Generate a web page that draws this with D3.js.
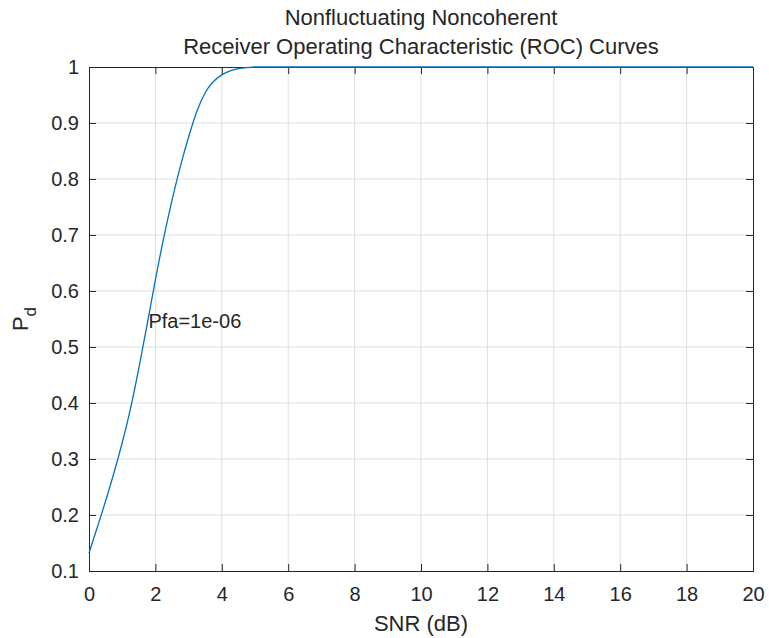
<!DOCTYPE html>
<html>
<head>
<meta charset="utf-8">
<script src="https://cdn.jsdelivr.net/npm/d3@7/dist/d3.min.js"></script>
<style>
  body { margin: 0; background: #fff; }
  text { font-family: "Liberation Sans", Arial, Helvetica, sans-serif; fill: #262626; }
</style>
</head>
<body>
<div id="chart"></div>
<script>
// values
const snr = [0, 0.25, 0.5, 0.75, 1, 1.25, 1.5, 1.75, 2, 2.25, 2.5, 2.75, 3, 3.25, 3.5, 3.75, 4, 4.25, 4.5, 4.75, 5, 5.5, 6, 8, 10, 12, 14, 16, 18, 20];
const pd = [0.132, 0.178, 0.225, 0.275, 0.329, 0.39, 0.462, 0.54, 0.62, 0.695, 0.762, 0.822, 0.875, 0.921, 0.954, 0.974, 0.986, 0.993, 0.997, 0.999, 1, 1, 1, 1, 1, 1, 1, 1, 1, 1];
const xTicks = [0, 2, 4, 6, 8, 10, 12, 14, 16, 18, 20];
const yTicks = [0.1, 0.2, 0.3, 0.4, 0.5, 0.6, 0.7, 0.8, 0.9, 1];
const titleLines = ['Nonfluctuating Noncoherent', 'Receiver Operating Characteristic (ROC) Curves'];
const note = { x: 1.79, y: 0.546, label: 'Pfa=1e-06' };

const W = 769, H = 638;
const margin = { top: 67, right: 16, bottom: 67, left: 89 };
const width = W - margin.left - margin.right;
const height = H - margin.top - margin.bottom;

const svg = d3.select('#chart').append('svg')
  .attr('width', W)
  .attr('height', H);

const g = svg.append('g').attr('transform', 'translate(' + margin.left + ',' + margin.top + ')');

const x = d3.scaleLinear().domain([0, 20]).range([0, width]);
const y = d3.scaleLinear().domain([0.1, 1]).range([height, 0]);

// grid
g.append('g').selectAll('line').data(xTicks.slice(1, -1)).enter().append('line')
  .attr('x1', d => x(d)).attr('x2', d => x(d))
  .attr('y1', 0).attr('y2', height)
  .attr('stroke', '#dfdfdf').attr('stroke-width', 1);
g.append('g').selectAll('line').data(yTicks.slice(1, -1)).enter().append('line')
  .attr('y1', d => y(d)).attr('y2', d => y(d))
  .attr('x1', 0).attr('x2', width)
  .attr('stroke', '#dfdfdf').attr('stroke-width', 1);

// axes (ticks point inward, box on all sides)
const tickLen = 7;
const fmtY = d => (d === 1 ? '1' : d3.format('.1f')(d));

const xAxis = g.append('g').attr('transform', 'translate(0,' + height + ')')
  .call(d3.axisBottom(x).tickValues(xTicks).tickSize(-tickLen).tickPadding(16).tickFormat(d3.format('d')));
const yAxis = g.append('g')
  .call(d3.axisLeft(y).tickValues(yTicks).tickSize(-tickLen).tickPadding(10).tickFormat(fmtY));
const xTop = g.append('g')
  .call(d3.axisTop(x).tickValues(xTicks).tickSize(-tickLen).tickFormat(''));
const yRight = g.append('g').attr('transform', 'translate(' + width + ',0)')
  .call(d3.axisRight(y).tickValues(yTicks).tickSize(-tickLen).tickFormat(''));

[xAxis, yAxis, xTop, yRight].forEach(a => {
  a.select('.domain').attr('stroke', '#262626').attr('stroke-width', 1);
  a.selectAll('.tick line').attr('stroke', '#262626');
  a.selectAll('.tick text').attr('fill', '#262626').style('font-size', '20px');
});

// curve
const line = d3.line()
  .x((d, i) => x(snr[i]))
  .y(d => y(d))
  .curve(d3.curveMonotoneX);

g.append('path')
  .datum(pd)
  .attr('fill', 'none')
  .attr('stroke', '#0072BD')
  .attr('stroke-width', 1.3)
  .attr('d', line);

// annotation
g.append('text')
  .attr('x', x(note.x))
  .attr('y', y(note.y))
  .attr('dy', '0.35em')
  .style('font-size', '20px')
  .text(note.label);

// title
svg.append('text')
  .attr('x', margin.left + width / 2).attr('y', 25)
  .attr('text-anchor', 'middle').style('font-size', '22px')
  .text(titleLines[0]);
svg.append('text')
  .attr('x', margin.left + width / 2).attr('y', 54)
  .attr('text-anchor', 'middle').style('font-size', '22px')
  .text(titleLines[1]);

// axis labels
svg.append('text')
  .attr('x', margin.left + width / 2).attr('y', 631)
  .attr('text-anchor', 'middle').style('font-size', '22px')
  .text('SNR (dB)');

const yl = svg.append('text')
  .attr('transform', 'translate(28,' + (margin.top + height / 2) + ') rotate(-90)')
  .attr('text-anchor', 'middle')
  .style('font-size', '22px');
yl.append('tspan').text('P');
yl.append('tspan').attr('dy', '0.45em').style('font-size', '17px').text('d');
</script>
</body>
</html>
